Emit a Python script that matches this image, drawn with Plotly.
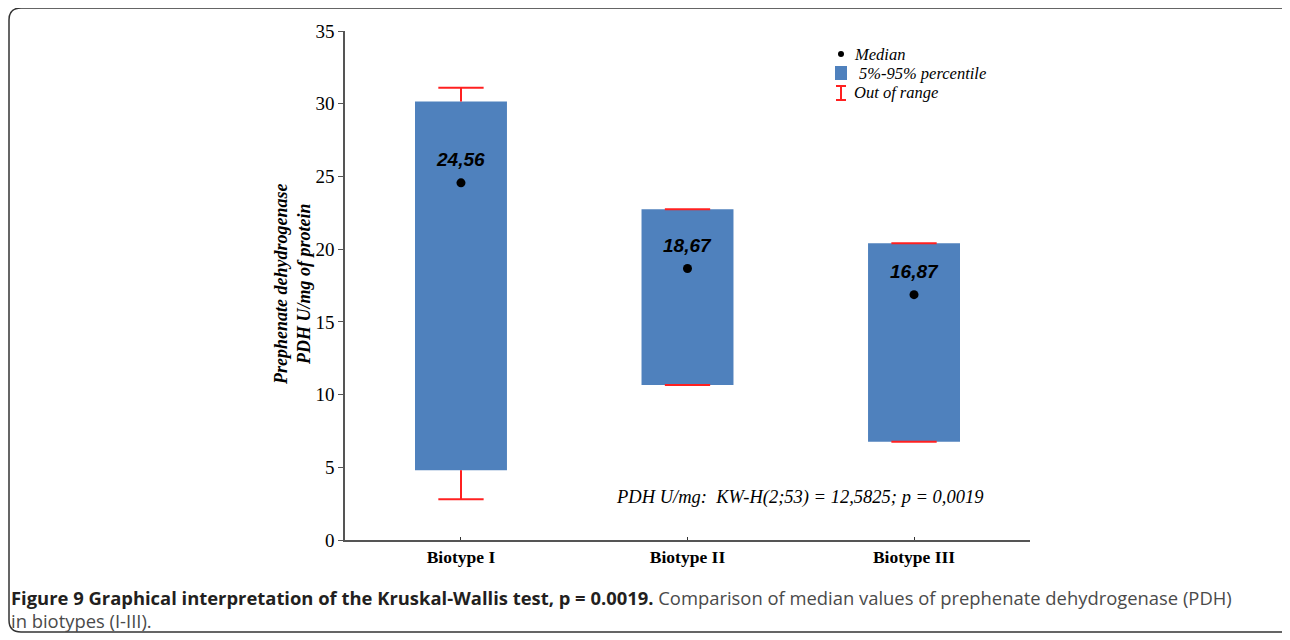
import plotly.graph_objects as go

# ---- data ----
categories = ["Biotype I", "Biotype II", "Biotype III"]
medians = [24.56, 18.67, 16.87]
median_labels = ["24,56", "18,67", "16,87"]
p5 = [4.8, 10.65, 6.75]
p95 = [30.15, 22.75, 20.4]
whisker_low = [2.8, 10.65, 6.75]
whisker_high = [31.1, 22.75, 20.4]
y_ticks = [0, 5, 10, 15, 20, 25, 30, 35]

# ---- layout geometry (screen pixels; page body has an 8px margin) ----
OFF = 8
W, H = 1290 - OFF, 640 - OFF
L, R, T, B = 345, 1030, 31, 540


def px(x):
    return (x - L) / (R - L)


def py(y):
    return (B - y) / (B - T)


xs = list(range(len(categories)))
BOX_W = 0.406
CAP = 0.1
BLUE = "#4F81BD"
RED = "#FF2020"

fig = go.Figure()

# boxes (5%-95%)
fig.add_trace(go.Bar(
    x=xs, y=[h - l for h, l in zip(p95, p5)], base=p5, width=BOX_W,
    marker=dict(color=BLUE, line=dict(width=0)), hoverinfo="skip", showlegend=False))

# whiskers (out of range)
wx, wy = [], []
for i in xs:
    wx += [i, i, None, i - CAP, i + CAP, None]
    wy += [p95[i], whisker_high[i], None, whisker_high[i], whisker_high[i], None]
    wx += [i, i, None, i - CAP, i + CAP, None]
    wy += [p5[i], whisker_low[i], None, whisker_low[i], whisker_low[i], None]
fig.add_trace(go.Scatter(x=wx, y=wy, mode="lines", line=dict(color=RED, width=2),
                         hoverinfo="skip", showlegend=False))

# medians
fig.add_trace(go.Scatter(x=xs, y=medians, mode="markers",
                         marker=dict(color="black", size=9), showlegend=False))
for i in xs:
    fig.add_annotation(x=i, y=medians[i], xref="x", yref="y", text=f"<b><i>{median_labels[i]}</i></b>",
                       showarrow=False, yshift=23, font=dict(family="Liberation Sans", size=19, color="black"))

serif = "Liberation Serif"

# legend (custom)
fig.add_shape(type="circle", xref="paper", yref="paper",
              x0=px(838), x1=px(844), y0=py(57), y1=py(51), fillcolor="black", line=dict(width=0))
fig.add_shape(type="rect", xref="paper", yref="paper",
              x0=px(835), x1=px(847), y0=py(80), y1=py(66), fillcolor=BLUE, line=dict(width=0))
fig.add_shape(type="path", xref="paper", yref="paper",
              path=f"M {px(836)},{py(86)} L {px(846)},{py(86)} M {px(841)},{py(86)} L {px(841)},{py(100)} "
                   f"M {px(836)},{py(100)} L {px(846)},{py(100)}",
              line=dict(color=RED, width=2))
for text, x0, yy in [("Median", 852, 54), ("5%-95% percentile", 857, 73), ("Out of range", 852, 93)]:
    fig.add_annotation(x=px(x0), y=py(yy), xref="paper", yref="paper", text=f"<i>{text}</i>",
                       showarrow=False, xanchor="left", yanchor="middle",
                       font=dict(family=serif, size=16.5, color="black"))

# KW text
fig.add_annotation(x=px(614), y=py(497), xref="paper", yref="paper",
                   text="<i>PDH U/mg:  KW-H(2;53) = 12,5825; p = 0,0019</i>",
                   showarrow=False, xanchor="left", yanchor="middle",
                   font=dict(family=serif, size=18.5, color="black"))

# y axis title
fig.add_annotation(x=px(292), y=py(285), xref="paper", yref="paper",
                   text="<b><i>Prephenate dehydrogenase<br>PDH U/mg of protein</i></b>",
                   showarrow=False, textangle=-90, xanchor="center", yanchor="middle",
                   font=dict(family=serif, size=18, color="black"))

# caption
fig.add_annotation(x=px(9), y=py(597), xref="paper", yref="paper",
                   text="<b>Figure 9 Graphical interpretation of the Kruskal-Wallis test, p = 0.0019.</b>"
                        "<span style='color:#4a4a4a'> Comparison of median values of prephenate dehydrogenase (PDH)</span>",
                   showarrow=False, xanchor="left", yanchor="middle",
                   font=dict(family="Open Sans", size=18.4, color="#231f20"))
fig.add_annotation(x=px(9), y=py(620), xref="paper", yref="paper",
                   text="in biotypes (I-III).",
                   showarrow=False, xanchor="left", yanchor="middle",
                   font=dict(family="Open Sans", size=18.4, color="#4a4a4a"))

# outer frame (rounded; right side runs off the picture)
x0, x1, y0, y1, r = 9, 1310, 8, 632, 12
path = (f"M {px(x0)},{py(y0 + r)} Q {px(x0)},{py(y0)} {px(x0 + r)},{py(y0)} "
        f"L {px(x1 - r)},{py(y0)} Q {px(x1)},{py(y0)} {px(x1)},{py(y0 + r)} "
        f"L {px(x1)},{py(y1 - r)} Q {px(x1)},{py(y1)} {px(x1 - r)},{py(y1)} "
        f"L {px(x0 + r)},{py(y1)} Q {px(x0)},{py(y1)} {px(x0)},{py(y1 - r)} Z")
fig.add_shape(type="path", xref="paper", yref="paper", path=path,
              line=dict(color="#333333", width=1.5), layer="below")

fig.update_layout(
    width=W, height=H,
    margin=dict(l=L - OFF, r=W - (R - OFF), t=T - OFF, b=H - (B - OFF)),
    paper_bgcolor="white", plot_bgcolor="white",
    showlegend=False,
    xaxis=dict(range=[-0.512, 2.512], tickvals=xs,
               ticktext=[f"<b>{c}</b>" for c in categories],
               showline=True, linecolor="#555555", linewidth=1.5, ticks="inside", ticklen=3,
               tickcolor="#333333", showgrid=False, zeroline=False,
               tickfont=dict(family=serif, size=17.5, color="black")),
    yaxis=dict(range=[0, 35], tickvals=y_ticks, showline=True, linecolor="#555555", linewidth=1.5,
               ticks="outside", ticklen=5, tickcolor="#555555", showgrid=False, zeroline=False,
               tickfont=dict(family=serif, size=19, color="black")),
)

fig.write_html("out.html")
